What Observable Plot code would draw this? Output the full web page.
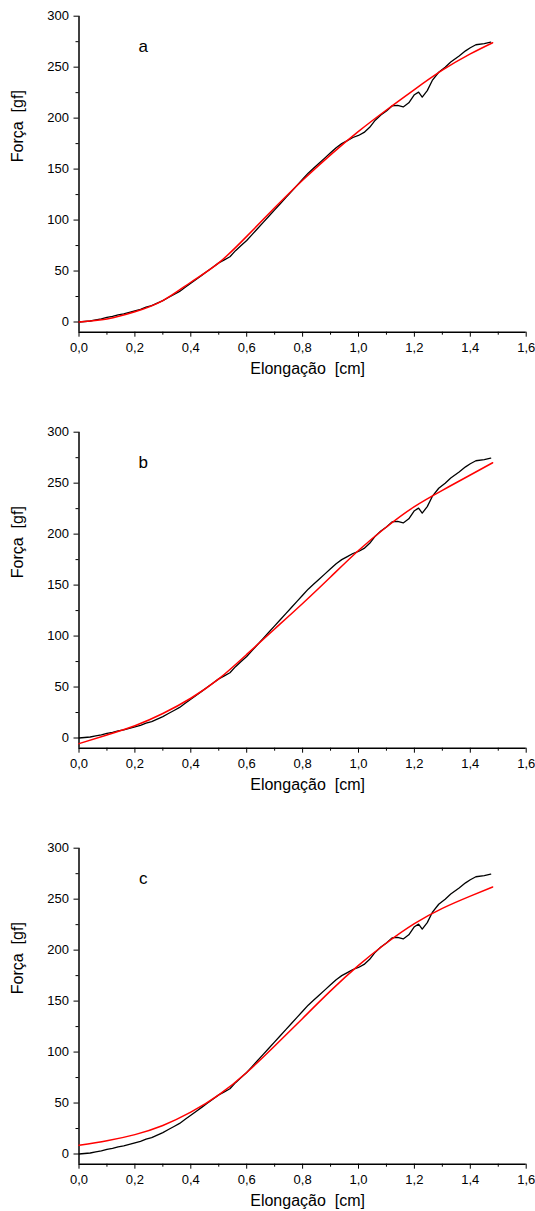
<!DOCTYPE html>
<html>
<head>
<meta charset="utf-8">
<script src="https://cdn.jsdelivr.net/npm/d3@7"></script>
<script src="https://cdn.jsdelivr.net/npm/@observablehq/plot@0.6"></script>
<style>
  html, body { margin: 0; padding: 0; background: #fff; }
  #charts svg { display: block; }
</style>
</head>
<body>
<div id="charts"></div>
<script>
// Experimental curve (same in all panels): elongation [cm] vs force [gf]
const expX = [0.00,0.02,0.04,0.06,0.08,0.10,0.12,0.14,0.16,0.18,0.20,0.22,0.24,0.26,0.28,0.30,0.32,0.34,0.36,0.38,0.40,0.42,0.44,0.46,0.48,0.50,0.52,0.54,0.56,0.58,0.60,0.62,0.64,0.66,0.68,0.70,0.72,0.74,0.76,0.78,0.80,0.82,0.84,0.86,0.88,0.90,0.92,0.94,0.96,0.98,1.00,1.02,1.04,1.06,1.08,1.10,1.12,1.14,1.16,1.18,1.20,1.215,1.228,1.246,1.264,1.287,1.31,1.33,1.36,1.383,1.40,1.42,1.45,1.473];
const expY = [0,0.5,1,2,3,4.5,5.5,7,8,9.5,11,12.5,14.5,16,18.5,21,24,27,30,34,38,42,46,50,54,58,61,64,70,75,80,86,92,98,104,110,116,122,128,134,140,146,151,156,161,166,171,175,178,181,183,186,191,198,203,207,212,212.5,211,215,223,225.5,220.6,227,237,245,250,255,261,266,269,272,273,274.5];

// Fitted curves (red)
const fitX = [0.00,0.10,0.20,0.30,0.40,0.50,0.60,0.70,0.80,0.90,1.00,1.10,1.20,1.30,1.40,1.48];
const fitA = [0,3,10,21,39,58,84,112,139,164,187,208,228,247,263,274];
const fitB = [-5.5,3,12,24,39,58,82,107,132,158,184,207,227,243,258,270];
const fitC = [8.5,13,19,28,41,58,80,106,133,160,185,207,226,241,253,262];

const panelLabels = ["a","b","c"];
const xMajor = [0,0.2,0.4,0.6,0.8,1.0,1.2,1.4,1.6];
const xMinor = [0.1,0.3,0.5,0.7,0.9,1.1,1.3,1.5];
const yMajor = [0,50,100,150,200,250,300];
const yMinor = [25,75,125,175,225,275];
const xTitle = "Elongação\u00a0 [cm]";
const yTitle = "Força\u00a0 [gf]";

const expData = expX.map((x,i)=>({x, y: expY[i]}));
const fits = [fitA, fitB, fitC];
const heights = [416, 416, 379];
const font = "'Liberation Sans', Arial, sans-serif";
const fmt = d => d.toFixed(1).replace(".", ",");

const container = document.getElementById("charts");
fits.forEach((fit, k) => {
  const fitData = fitX.map((x,i)=>({x, y: fit[i]}));
  const H = heights[k];
  const chart = Plot.plot({
    width: 535,
    height: H,
    marginLeft: 78.5,
    marginRight: 9.3,
    marginTop: 15.7,
    marginBottom: H - 331.7,
    style: {fontFamily: font, fontSize: "13px", color: "#000", background: "#fff"},
    x: {domain: [0, 1.6]},
    y: {domain: [-10, 300]},
    marks: [
      Plot.axisX({ticks: xMajor, tickSize: 5, tickPadding: 6, tickFormat: fmt, fontSize: 13, label: null, strokeWidth: 1}),
      Plot.axisX({ticks: xMinor, tickSize: 3, tickFormat: () => "", label: null, strokeWidth: 1}),
      Plot.axisY({ticks: yMajor, tickSize: 5, tickPadding: 5, fontSize: 13, label: null, strokeWidth: 1}),
      Plot.axisY({ticks: yMinor, tickSize: 3, tickFormat: () => "", label: null, strokeWidth: 1}),
      Plot.ruleY([-10], {stroke: "#000", strokeWidth: 1.5}),
      Plot.ruleX([0], {stroke: "#000", strokeWidth: 1.5}),
      Plot.text([xTitle], {frameAnchor: "bottom", dx: 5, dy: 42, fontSize: 16, fill: "#000"}),
      Plot.text([yTitle], {frameAnchor: "left", dx: -61, dy: -12, rotate: -90, fontSize: 16, fill: "#000"}),
      Plot.line(expData, {x: "x", y: "y", stroke: "#000", strokeWidth: 1.3}),
      Plot.line(fitData, {x: "x", y: "y", stroke: "#ff0000", strokeWidth: 1.5, curve: "natural"}),
      Plot.text([{x: 0.23, y: 270, t: panelLabels[k]}], {x: "x", y: "y", text: "t", fontSize: 17, fill: "#000"})
    ]
  });
  container.appendChild(chart);
});
</script>
</body>
</html>
